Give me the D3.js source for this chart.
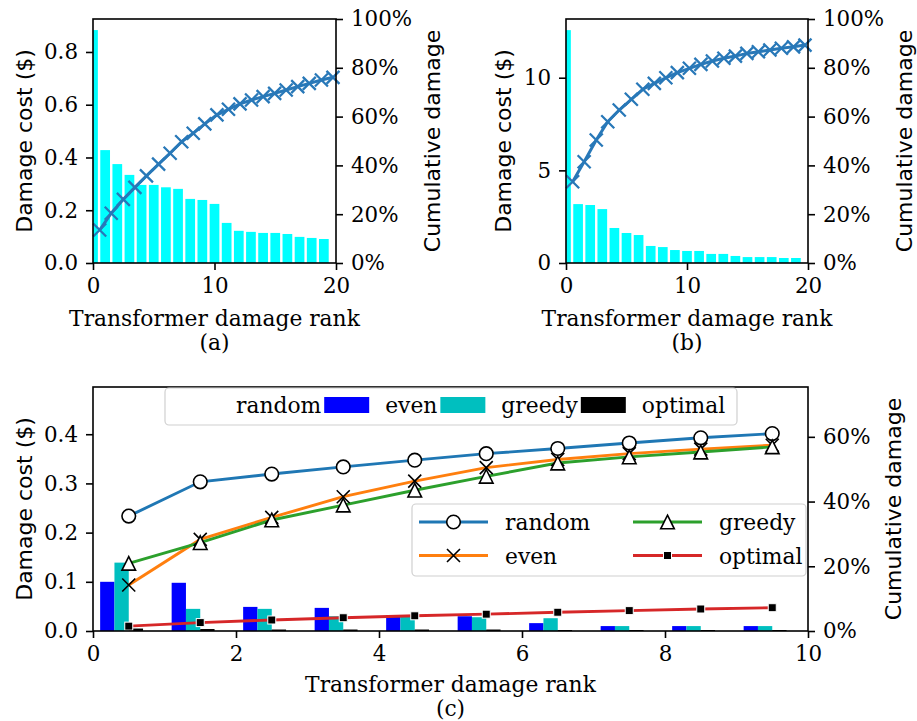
<!DOCTYPE html>
<html>
<head>
<meta charset="utf-8">
<script src="https://cdn.jsdelivr.net/npm/d3@7"></script>
<style>
body { margin: 0; background: #fff; }
text { font-family: "DejaVu Serif"; fill: #000; }
</style>
</head>
<body>
<svg id="fig" width="917" height="721"></svg>
<script>
// panel (a) / (b): damage cost per rank, cumulative damage share
var costA = [0.883, 0.428, 0.375, 0.334, 0.296, 0.296, 0.287, 0.281, 0.243, 0.239,
             0.224, 0.152, 0.122, 0.118, 0.114, 0.114, 0.110, 0.099, 0.095, 0.091];
var cumA = [13.5, 20.4, 26.1, 31.0, 35.7, 40.5, 45.0, 49.7, 53.2, 57.0, 60.7,
            63.0, 65.2, 66.8, 68.2, 69.5, 70.9, 72.3, 73.6, 75.0, 76.1];
var costB = [12.57, 3.18, 3.13, 2.91, 1.89, 1.62, 1.51, 0.92, 0.86, 0.70,
             0.65, 0.65, 0.49, 0.49, 0.38, 0.32, 0.32, 0.32, 0.27, 0.27];
var cumB = [33.3, 41.5, 50.4, 57.9, 62.7, 67.1, 71.2, 73.6, 75.9, 78.0, 79.8,
            81.4, 82.8, 83.9, 84.8, 85.9, 86.6, 87.3, 88.0, 88.6, 89.3];
var cumRank = [0.55, 1.5, 2.5, 3.45, 4.4, 5.4, 6.35, 7.3, 8.25, 9.2, 10.2,
               11.15, 12.1, 13.05, 14.0, 14.95, 15.9, 16.85, 17.8, 18.8, 19.75];

// panel (c): four strategies, top 10 ranks
var strategies = ["random", "even", "greedy", "optimal"];
var barColors = ["#ffffff", "#0000ff", "#00bfbf", "#000000"];
var lineColors = ["#1f77b4", "#ff7f0e", "#2ca02c", "#d62728"];
var costRandom = [0.249, 0.074, 0.017, 0.015, 0.015, 0.014, 0.011, 0.012, 0.011, 0.009];
var costEven = [0.100, 0.098, 0.049, 0.047, 0.032, 0.030, 0.016, 0.010, 0.010, 0.010];
var costGreedy = [0.139, 0.045, 0.045, 0.030, 0.029, 0.028, 0.026, 0.010, 0.010, 0.010];
var costOptimal = [0.005, 0.004, 0.003, 0.003, 0.003, 0.003, 0.002, 0.002, 0.002, 0.002];
var cumRandom = [35.5, 46.1, 48.5, 50.7, 52.8, 54.8, 56.4, 58.1, 59.7, 61.0];
var cumEven = [14.2, 28.3, 35.1, 41.5, 46.3, 50.5, 53.0, 54.8, 56.2, 57.4];
var cumGreedy = [20.9, 27.3, 34.3, 38.9, 43.5, 47.8, 51.9, 53.8, 55.3, 56.9];
var cumOptimal = [1.5, 2.6, 3.4, 4.1, 4.7, 5.2, 5.8, 6.3, 6.8, 7.2];

var FS = 21.8;      // serif labels
var TFS = 21.4;     // tick labels
var SFS = 22;       // sans y labels
var svg = d3.select("#fig");

function styleAxis(g) {
    g.select(".domain").remove();
    g.selectAll(".tick line").attr("stroke", "#000").attr("stroke-width", 1.6);
    g.selectAll(".tick text").style("font-family", "DejaVu Serif").style("font-size", TFS + "px").attr("fill", "#000");
}

function frame(g, x0, x1, y0, y1) {
    g.append("rect").attr("x", x0).attr("y", y0).attr("width", x1 - x0).attr("height", y1 - y0)
        .attr("fill", "none").attr("stroke", "#000").attr("stroke-width", 1.6);
}

function yLabel(x, y, txt) {
    svg.append("text").attr("transform", "translate(" + x + "," + y + ") rotate(-90)")
        .attr("text-anchor", "middle").attr("dy", "0.35em")
        .style("font-family", "DejaVu Sans").style("font-size", SFS + "px").text(txt);
}

function xLabels(cx, bottom, letter, labOff, capOff) {
    svg.append("text").attr("x", cx).attr("y", bottom + labOff).attr("text-anchor", "middle")
        .style("font-size", FS + "px").text("Transformer damage rank");
    svg.append("text").attr("x", cx).attr("y", bottom + capOff).attr("text-anchor", "middle")
        .style("font-size", FS + "px").text("(" + letter + ")");
}

function xMark(s) {
    return "M" + (-s) + "," + (-s) + "L" + s + "," + s + "M" + (-s) + "," + s + "L" + s + "," + (-s);
}

function drawSmall(id, left, right, costs, cums, yMax, yTicks, yFmt) {
    var top = 19, bottom = 263;
    var x = d3.scaleLinear().domain([0, 20]).range([left, right]);
    var y = d3.scaleLinear().domain([0, yMax]).range([bottom, top]);
    var y2 = d3.scaleLinear().domain([0, 100]).range([bottom, top]);
    var g = svg.append("g");

    g.append("clipPath").attr("id", "clip" + id).append("rect")
        .attr("x", left).attr("y", top).attr("width", right - left).attr("height", bottom - top);

    g.append("g").attr("clip-path", "url(#clip" + id + ")")
        .selectAll("rect").data(costs).enter().append("rect")
        .attr("x", function(d, i) {return x(i - 0.4);})
        .attr("width", x(0.8) - x(0))
        .attr("y", function(d) {return y(d);})
        .attr("height", function(d) {return bottom - y(d);})
        .attr("fill", "#00ffff");

    var line = d3.line().x(function(d, i) {return x(cumRank[i]);}).y(function(d) {return y2(d);});
    g.append("path").datum(cums).attr("d", line).attr("fill", "none")
        .attr("stroke", "#2878b8").attr("stroke-width", 3);
    g.selectAll(".mk").data(cums).enter().append("path").attr("class", "mk")
        .attr("transform", function(d, i) {return "translate(" + x(cumRank[i]) + "," + y2(d) + ")";})
        .attr("d", xMark(6.5)).attr("stroke", "#2878b8").attr("stroke-width", 2.3).attr("fill", "none");

    var ax = g.append("g").attr("transform", "translate(0," + bottom + ")")
        .call(d3.axisBottom(x).tickValues([0, 10, 20]).tickSize(7).tickPadding(8).tickSizeOuter(0));
    styleAxis(ax);
    var ay = g.append("g").attr("transform", "translate(" + left + ",0)")
        .call(d3.axisLeft(y).tickValues(yTicks).tickFormat(yFmt).tickSize(7).tickPadding(8).tickSizeOuter(0));
    styleAxis(ay);
    var ay2 = g.append("g").attr("transform", "translate(" + right + ",0)")
        .call(d3.axisRight(y2).tickValues([0, 20, 40, 60, 80, 100]).tickFormat(function(d) {return d + "%";})
            .tickSize(7).tickPadding(8).tickSizeOuter(0));
    styleAxis(ay2);
    frame(g, left, right, top, bottom);

    var lb = ay.node().getBBox(), rb = ay2.node().getBBox();
    yLabel(left + lb.x - 20, (top + bottom) / 2, "Damage cost ($)");
    yLabel(right + rb.x + rb.width + 20, (top + bottom) / 2, "Cumulative damage");
    xLabels((left + right) / 2, bottom, id, 63, 87);
}

drawSmall("a", 93, 336, costA, cumA, 0.925, [0, 0.2, 0.4, 0.6, 0.8], d3.format(".1f"));
drawSmall("b", 566, 808, costB, cumB, 13.17, [0, 5, 10], d3.format("d"));

// panel (c)
(function() {
    var left = 93, right = 808, top = 387, bottom = 631;
    var x = d3.scaleLinear().domain([0, 10]).range([left, right]);
    var y = d3.scaleLinear().domain([0, 0.496]).range([bottom, top]);
    var y2 = d3.scaleLinear().domain([0, 75.4]).range([bottom, top]);
    var g = svg.append("g");
    var costs = [costRandom, costEven, costGreedy, costOptimal];
    var cums = [cumRandom, cumEven, cumGreedy, cumOptimal];
    var bw = 0.2;

    g.append("clipPath").attr("id", "clipc").append("rect")
        .attr("x", left).attr("y", top).attr("width", right - left).attr("height", bottom - top);
    var bars = g.append("g").attr("clip-path", "url(#clipc)");
    costs.forEach(function(arr, k) {
        bars.append("g").selectAll("rect").data(arr).enter().append("rect")
            .attr("x", function(d, i) {return x(i + k * bw - bw / 2);})
            .attr("width", x(bw) - x(0))
            .attr("y", function(d) {return y(d);})
            .attr("height", function(d) {return bottom - y(d);})
            .attr("fill", barColors[k]);
    });

    var line = d3.line().x(function(d, i) {return x(i + 0.5);}).y(function(d) {return y2(d);});
    cums.forEach(function(arr, k) {
        g.append("path").datum(arr).attr("d", line).attr("fill", "none")
            .attr("stroke", lineColors[k]).attr("stroke-width", 2.9);
    });
    cums.forEach(function(arr, k) {
        var m = g.append("g").selectAll("g").data(arr).enter().append("g")
            .attr("transform", function(d, i) {return "translate(" + x(i + 0.5) + "," + y2(d) + ")";});
        drawMarker(m, k);
    });

    var ax = g.append("g").attr("transform", "translate(0," + bottom + ")")
        .call(d3.axisBottom(x).tickValues([0, 2, 4, 6, 8, 10]).tickSize(7).tickPadding(8).tickSizeOuter(0));
    styleAxis(ax);
    var ay = g.append("g").attr("transform", "translate(" + left + ",0)")
        .call(d3.axisLeft(y).tickValues([0, 0.1, 0.2, 0.3, 0.4]).tickFormat(d3.format(".1f"))
            .tickSize(7).tickPadding(8).tickSizeOuter(0));
    styleAxis(ay);
    var ay2 = g.append("g").attr("transform", "translate(" + right + ",0)")
        .call(d3.axisRight(y2).tickValues([0, 20, 40, 60]).tickFormat(function(d) {return d + "%";})
            .tickSize(7).tickPadding(8).tickSizeOuter(0));
    styleAxis(ay2);
    frame(g, left, right, top, bottom);

    var lb = ay.node().getBBox();
    yLabel(left + lb.x - 20, (top + bottom) / 2, "Damage cost ($)");
    yLabel(893, (top + bottom) / 2, "Cumulative damage");
    xLabels((left + right) / 2, bottom, "c", 61, 85);

    // legend for bars (one row)
    var lg = g.append("g");
    lg.append("rect").attr("x", 165).attr("y", 388).attr("width", 572).attr("height", 37).attr("rx", 4)
        .attr("fill", "#fff").attr("fill-opacity", 0.85).attr("stroke", "#d0d0d0").attr("stroke-width", 1.2);
    var cx = 175;
    strategies.forEach(function(s, k) {
        lg.append("rect").attr("x", cx).attr("y", 397).attr("width", 45).attr("height", 16).attr("fill", barColors[k]);
        cx += 45 + 16;
        var t = lg.append("text").attr("x", cx).attr("y", 413).style("font-size", FS + "px").text(s);
        cx += t.node().getComputedTextLength() + 3;
    });

    // legend for lines (2 x 2)
    var lg2 = g.append("g");
    lg2.append("rect").attr("x", 412).attr("y", 504).attr("width", 394).attr("height", 72).attr("rx", 4)
        .attr("fill", "#fff").attr("fill-opacity", 0.85).attr("stroke", "#d0d0d0").attr("stroke-width", 1.2);
    strategies.forEach(function(s, k) {
        var col = Math.floor(k / 2), row = k % 2;
        var lx = 419 + col * 214, ly = 522 + row * 33.5;
        lg2.append("line").attr("x1", lx).attr("x2", lx + 69).attr("y1", ly).attr("y2", ly)
            .attr("stroke", lineColors[k]).attr("stroke-width", 2.9);
        drawMarker(lg2.append("g").attr("transform", "translate(" + (lx + 34.5) + "," + ly + ")"), k);
        lg2.append("text").attr("x", lx + 86).attr("y", ly + 8).style("font-size", FS + "px").text(s);
    });

    function drawMarker(sel, k) {
        if (k === 0) {
            sel.append("circle").attr("r", 6.8).attr("fill", "#fff").attr("stroke", "#000").attr("stroke-width", 1.6);
        } else if (k === 1) {
            sel.append("path").attr("d", xMark(6.5)).attr("stroke", "#000").attr("stroke-width", 1.6).attr("fill", "none");
        } else if (k === 2) {
            sel.append("path").attr("d", "M0,-6.8L6.8,6.8L-6.8,6.8Z").attr("fill", "#fff")
                .attr("stroke", "#000").attr("stroke-width", 1.6);
        } else {
            sel.append("rect").attr("x", -4).attr("y", -4).attr("width", 8).attr("height", 8)
                .attr("fill", "#000").attr("stroke", "#fff").attr("stroke-width", 1);
        }
    }
})();
</script>
</body>
</html>
